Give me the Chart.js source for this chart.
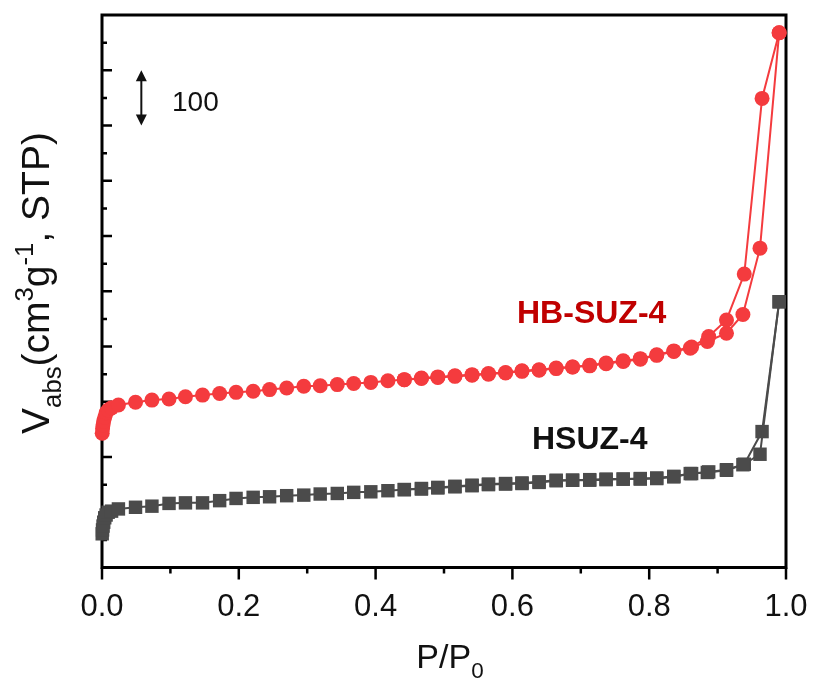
<!DOCTYPE html>
<html>
<head>
<meta charset="utf-8">
<script src="https://cdn.jsdelivr.net/npm/chart.js@4.4.1/dist/chart.umd.min.js"></script>
<style>
  html, body { margin: 0; padding: 0; background: #fff; }
</style>
</head>
<body>
<canvas id="myChart" width="815" height="688"></canvas>
<script>
// relative pressure P/P0
const pLow = [0.0003, 0.0008, 0.0015, 0.0025, 0.004, 0.006, 0.009, 0.014];
const pAds = [0.024, 0.049, 0.073, 0.098, 0.122, 0.147, 0.172, 0.196, 0.221, 0.245,
              0.27, 0.295, 0.319, 0.344, 0.368, 0.393, 0.418, 0.442, 0.467, 0.491,
              0.516, 0.541, 0.565, 0.59, 0.614, 0.639, 0.664, 0.688, 0.713, 0.737,
              0.762, 0.787, 0.811, 0.836, 0.86, 0.885, 0.913, 0.937, 0.962, 0.99];
const pDes = [0.99, 0.965, 0.939, 0.913, 0.887, 0.862, 0.836, 0.811, 0.787, 0.762,
              0.737, 0.713, 0.688, 0.664, 0.639, 0.614, 0.59, 0.565, 0.541, 0.516,
              0.491, 0.467, 0.442];

// HB-SUZ-4 (offset curve)
const hbLow = [243, 251, 258, 265, 272, 280, 285, 289];
const hbAds = [294, 299, 303, 305, 309, 312, 315, 317, 319, 322,
               325, 328, 329, 331, 333, 335, 338, 340, 342, 344,
               346, 348, 350, 352, 355, 357, 360, 363, 365, 369,
               373, 377, 384, 391, 397, 409, 424, 458, 578, 968];
const hbDes = [968, 849, 531, 448, 418, 399, 392, 385, 378, 374,
               370, 366, 363, 361, 358, 356, 353, 351, 349, 347,
               345, 343, 340];

// HSUZ-4
const hLow = [61, 68, 75, 82, 90, 95, 100, 102];
const hAds = [106, 109, 111, 116, 117, 117, 121, 125, 127, 128,
              130, 131, 133, 134, 136, 137, 139, 141, 142, 144,
              146, 148, 150, 151, 152, 154, 157, 158, 158, 159,
              160, 160, 161, 164, 170, 172, 176, 186, 205, 481];
const hDes = [481, 246, 187, 177, 173, 170, 165, 162, 161, 160,
              160, 159, 158, 158, 155, 153, 152, 151, 149, 147,
              145, 143, 141];

const xTicks = [0, 0.1, 0.2, 0.3, 0.4, 0.5, 0.6, 0.7, 0.8, 0.9, 1.0];
const xLabels = ['0.0', '', '0.2', '', '0.4', '', '0.6', '', '0.8', '', '1.0'];
const yTicks = [0, 50, 100, 150, 200, 250, 300, 350, 400, 450, 500,
                550, 600, 650, 700, 750, 800, 850, 900, 950, 1000];
const scaleBar = [800, 900];

const RED = '#f43b3e';
const GREY = '#4b4b4b';
const FONT = '"Liberation Sans", Arial, sans-serif';

function pts(xs, ys) {
  return xs.map((x, i) => ({x: x, y: ys[i]}));
}

function series(data, color, style, radius) {
  return {
    data: data,
    showLine: true,
    borderColor: color,
    borderWidth: 2,
    backgroundColor: color,
    pointBackgroundColor: color,
    pointBorderWidth: 0,
    pointStyle: style,
    pointRadius: radius,
    clip: false
  };
}

// draws text made of normal / sub / sup pieces, centred on x
function richText(c, parts, x, y, size) {
  let w = 0;
  parts.forEach(p => {
    c.font = (p.sub || p.sup ? size * 0.66 : size) + 'px ' + FONT;
    p.w = c.measureText(p.t).width;
    w += p.w;
  });
  let cx = x - w / 2;
  parts.forEach(p => {
    c.font = (p.sub || p.sup ? size * 0.66 : size) + 'px ' + FONT;
    let dy = p.sub ? size * 0.3 : (p.sup ? -size * 0.42 : 0);
    c.fillText(p.t, cx, y + dy);
    cx += p.w;
  });
}

const framePlugin = {
  id: 'frame',
  beforeDatasetsDraw(chart) {
    const c = chart.ctx, a = chart.chartArea;
    const xs = chart.scales.x, ys = chart.scales.y;
    c.save();
    c.strokeStyle = '#000';
    c.lineWidth = 3;
    c.strokeRect(a.left, a.top, a.right - a.left, a.bottom - a.top);
    c.lineWidth = 2.5;
    c.beginPath();
    xTicks.forEach((v, i) => {
      const px = xs.getPixelForValue(v);
      c.moveTo(px, a.bottom);
      c.lineTo(px, a.bottom + (xLabels[i] ? 12 : 6));
    });
    yTicks.forEach((v, i) => {
      if (v === 0 || v === 1000) return;
      const py = ys.getPixelForValue(v);
      c.moveTo(a.left, py);
      c.lineTo(a.left + (i % 2 === 0 ? 10 : 5), py);
    });
    c.stroke();
    c.restore();
  },
  afterDraw(chart) {
    const c = chart.ctx;
    const xs = chart.scales.x, ys = chart.scales.y;
    c.save();
    c.fillStyle = '#111';
    c.textAlign = 'center';
    c.textBaseline = 'alphabetic';
    c.font = '31px ' + FONT;
    xTicks.forEach((v, i) => {
      if (xLabels[i]) c.fillText(xLabels[i], xs.getPixelForValue(v), 616);
    });

    c.textAlign = 'left';
    richText(c, [{t: 'P/P'}, {t: '0', sub: true}], 450, 668, 34);

    c.save();
    c.translate(49, 283);
    c.rotate(-Math.PI / 2);
    richText(c, [{t: 'V'}, {t: 'abs', sub: true}, {t: '(cm'}, {t: '3', sup: true},
                 {t: 'g'}, {t: '-1', sup: true}, {t: ', STP)'}], 0, 0, 39);
    c.restore();

    // 100 unit scale arrow
    const ax = xs.getPixelForValue(0.0575);
    const y0 = ys.getPixelForValue(scaleBar[0]);
    const y1 = ys.getPixelForValue(scaleBar[1]);
    c.strokeStyle = '#111';
    c.lineWidth = 2;
    c.beginPath();
    c.moveTo(ax, y0 - 8);
    c.lineTo(ax, y1 + 8);
    c.stroke();
    c.beginPath();
    c.moveTo(ax, y1); c.lineTo(ax - 5.5, y1 + 11); c.lineTo(ax + 5.5, y1 + 11); c.closePath();
    c.moveTo(ax, y0); c.lineTo(ax - 5.5, y0 - 11); c.lineTo(ax + 5.5, y0 - 11); c.closePath();
    c.fill();
    c.font = '28px ' + FONT;
    c.fillText('100', 172, 111);

    c.font = 'bold 32px ' + FONT;
    c.fillStyle = '#c00000';
    c.fillText('HB-SUZ-4', 517, 323);
    c.fillStyle = '#111';
    c.fillText('HSUZ-4', 532, 449);
    c.restore();
  }
};

new Chart(document.getElementById('myChart'), {
  type: 'scatter',
  data: {
    datasets: [
      series(pts(pLow.concat(pAds), hLow.concat(hAds)), GREY, 'rect', 9.5),
      series(pts(pDes, hDes), GREY, 'rect', 9.5),
      series(pts(pLow.concat(pAds), hbLow.concat(hbAds)), RED, 'circle', 7.5),
      series(pts(pDes, hbDes), RED, 'circle', 7.5)
    ]
  },
  options: {
    responsive: false,
    animation: false,
    layout: { padding: { top: 15, right: 29, left: 0, bottom: 0 } },
    plugins: { legend: { display: false }, tooltip: { enabled: false } },
    scales: {
      x: {
        type: 'linear', min: 0, max: 1,
        ticks: { display: false }, grid: { display: false }, border: { display: false },
        afterFit(s) { s.height = 120.5; }
      },
      y: {
        type: 'linear', min: 0, max: 1000,
        ticks: { display: false }, grid: { display: false }, border: { display: false },
        afterFit(s) { s.width = 102; }
      }
    }
  },
  plugins: [framePlugin]
});
</script>
</body>
</html>
